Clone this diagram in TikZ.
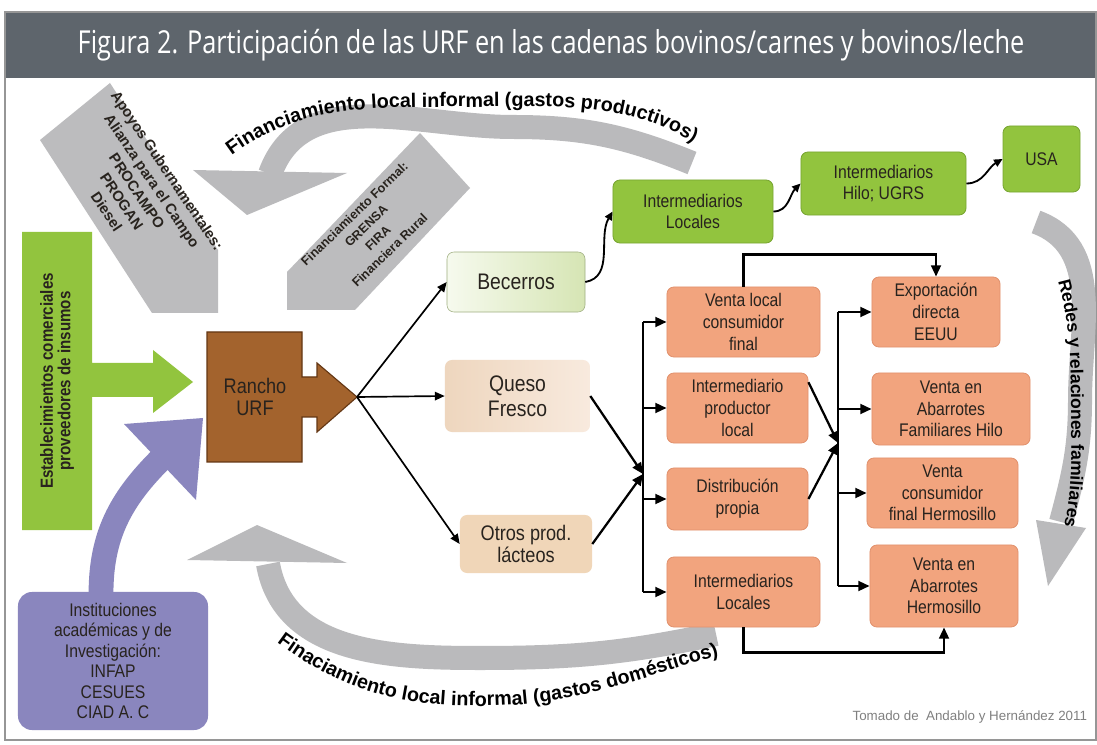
\documentclass[tikz,border=0pt]{standalone}
\usepackage{fontspec}
\setmainfont{Liberation Sans}
\newfontfamily\titlefont[FakeStretch=0.8]{Open Sans}
\newfontfamily\boxfont[FakeStretch=0.86]{Liberation Sans}
\usetikzlibrary{arrows.meta,decorations.text}

\definecolor{titlegray}{RGB}{94,101,108}
\definecolor{framegray}{RGB}{150,150,150}
\definecolor{shapegray}{RGB}{188,188,190}
\definecolor{arcgray}{RGB}{186,186,188}
\definecolor{limegreen}{RGB}{146,196,62}
\definecolor{limeborder}{RGB}{120,165,50}
\definecolor{salmon}{RGB}{242,164,126}
\definecolor{salmonborder}{RGB}{226,146,110}
\definecolor{ranchbrown}{RGB}{163,99,45}
\definecolor{ranchborder}{RGB}{100,55,20}
\definecolor{lavender}{RGB}{138,134,190}
\definecolor{calfleft}{RGB}{246,250,238}
\definecolor{calfright}{RGB}{214,229,180}
\definecolor{calfborder}{RGB}{160,175,130}
\definecolor{cheeseleft}{RGB}{238,214,190}
\definecolor{cheeseright}{RGB}{248,234,222}
\definecolor{dairy}{RGB}{240,214,184}
\definecolor{textdark}{RGB}{40,35,30}

\begin{document}
\begin{tikzpicture}[x=0.025cm, y=0.025cm,
    box/.style={rounded corners=5pt, align=center, inner sep=2pt, text=textdark, font=\boxfont\fontsize{13}{15.5}\selectfont},
    obox/.style={box, fill=salmon, draw=salmonborder, line width=0.6pt},
    gbox/.style={box, fill=limegreen, draw=limeborder, line width=0.6pt},
    arr/.style={-{Triangle[length=8pt,width=7pt]}, line width=1.6pt},
    tarr/.style={-{Triangle[length=7pt,width=6pt]}, line width=1.2pt},
    carr/.style={-{Triangle[length=6pt,width=5.5pt]}, line width=1.3pt},
    band/.style={draw=arcgray, line width=0.6cm},
    arctext/.style 2 args={decoration={text along path, text align=center, text={|\bfseries\fontsize{#1}{#1}\selectfont|#2}}, decorate}]

        \useasboundingbox (0,0) rectangle (1097,744);
        \fill[white] (0,0) rectangle (1097,744);
        \fill[titlegray] (5,666) rectangle (1097,732);
        \draw[framegray, line width=0.8pt] (5,4) rectangle (1096,732);
        \node[text=white, font=\titlefont\fontsize{22.5}{24}\selectfont] (T) at (551,699) {Figura 2. Participación de las URF en las cadenas bovinos/carnes y bovinos/leche};

        \fill[shapegray] (40,604) -- (110,661) -- (218,494) -- (218,431) -- (152,431) -- cycle;
        \fill[shapegray] (287,434) -- (287,472) -- (420,611) -- (470,556) -- (355,434) -- cycle;

        \draw[band] (692,581) to[out=158,in=0] (513,617) to[out=180,in=70] (270,570);
        \fill[arcgray] (193,574) -- (347,571) -- (247,529) -- cycle;
        \draw[band] (716,110) to[out=192,in=0] (480,86) to[out=180,in=-80] (268,180);
        \fill[arcgray] (187,184) -- (347,181) -- (257,219) -- cycle;
        \draw[band] (1036,522) to[out=-20,in=90] (1080,344) to[out=-90,in=75] (1061,222);
        \fill[arcgray] (1036,224) -- (1086,216) -- (1048,158) -- cycle;

        \path[arctext={14}{Financiamiento local informal (gastos productivos)}] (212,572) to[out=42,in=180] (460,637) to[out=0,in=145] (715,588);
        \path[arctext={14}{Finaciamiento local informal (gastos domésticos)}] (266,110) to[out=-38,in=180] (480,38) to[out=0,in=195] (732,92);
        \path[arctext={12.5}{Redes y relaciones familiares}] (1046,500) to[out=-70,in=90] (1071,344) to[out=-90,in=70] (1053,180);

        \fill[limegreen] (22,214) -- (92,214) -- (92,347) -- (153,347) -- (153,331) -- (193,362) -- (153,394) -- (153,381) -- (92,381) -- (92,512) -- (22,512) -- cycle;
        \draw[lavender, line width=0.62cm] (101,150) to[out=90,in=225] (160,284);
        \fill[lavender] (124,320) -- (196,244) -- (203,326) -- cycle;
        \filldraw[fill=ranchbrown, draw=ranchborder, line width=0.8pt] (207,412) -- (302,412) -- (302,367) -- (317,367) -- (317,381) -- (357,347) -- (317,312) -- (317,327) -- (302,327) -- (302,282) -- (207,282) -- cycle;

        \node[rotate=-56, align=center, text=textdark, font=\bfseries\fontsize{10.5}{13}\selectfont] (Apo) at (137,553) {Apoyos Gubernamentales:\\Alianza para el Campo\\PROCAMPO\\PROGAN\\Diesel};
        \node[rotate=44, align=center, text=textdark, font=\bfseries\fontsize{9}{12}\selectfont] (Fin) at (372,512) {Financiamiento Formal:\\GRENSA\\FIRA\\Financiera Rural};
        \node[rotate=90, align=center, text=textdark, font=\boxfont\bfseries\fontsize{12.5}{12.5}\selectfont] (Est) at (57,363) {Establecimientos comerciales\\proveedores de insumos};
        \node[box, fill=lavender, rounded corners=10pt, minimum width=4.75cm, minimum height=3.45cm, font=\boxfont\fontsize{13}{14.5}\selectfont] (Ins) at (113,83) {Instituciones\\académicas y de\\Investigación:\\INFAP\\CESUES\\CIAD A. C};
        \node[box, font=\boxfont\fontsize{15}{16}\selectfont] (R) at (255,347) {Rancho\\URF};
        \coordinate (RT) at (357,347);

        \node[box, left color=calfleft, right color=calfright, draw=calfborder, minimum width=3.45cm, minimum height=1.5cm, font=\boxfont\fontsize{16}{18}\selectfont] (Bec) at (516,462) {Becerros};
        \node[box, left color=cheeseleft, right color=cheeseright, minimum width=3.625cm, minimum height=1.8cm, font=\boxfont\fontsize{16}{18}\selectfont] (Que) at (517.5,348) {Queso\\Fresco};
        \node[box, fill=dairy, minimum width=3.3cm, minimum height=1.45cm, font=\boxfont\fontsize{15}{16}\selectfont] (Otr) at (526,200) {Otros prod.\\lácteos};

        \node[gbox, minimum width=4cm, minimum height=1.575cm] (IL) at (693,532.5) {Intermediarios\\Locales};
        \node[gbox, minimum width=4.125cm, minimum height=1.575cm] (IH) at (883.5,560.5) {Intermediarios\\Hilo; UGRS};
        \node[gbox, minimum width=1.925cm, minimum height=1.65cm] (USA) at (1041.5,585) {USA};

        \node[obox, minimum width=3.825cm, minimum height=1.75cm] (V1) at (743.5,422) {Venta local\\consumidor\\final};
        \node[obox, minimum width=3.525cm, minimum height=1.75cm] (V2) at (737.5,336) {Intermediario\\productor\\local};
        \node[obox, minimum width=3.525cm, minimum height=1.55cm] (V3) at (737.5,245) {Distribución\\propia};
        \node[obox, minimum width=3.825cm, minimum height=1.75cm] (V4) at (743.5,152) {Intermediarios\\Locales};

        \node[obox, minimum width=3.2cm, minimum height=1.75cm] (E1) at (936,432) {Exportación\\directa\\EEUU};
        \node[obox, minimum width=3.95cm, minimum height=1.8cm] (E2) at (951,335) {Venta en\\Abarrotes\\Familiares Hilo};
        \node[obox, minimum width=3.775cm, minimum height=1.75cm] (E3) at (942.5,251) {Venta\\consumidor\\final Hermosillo};
        \node[obox, minimum width=3.7cm, minimum height=2.05cm] (E4) at (944,158) {Venta en\\Abarrotes\\Hermosillo};

        \node[anchor=east, text=gray, font=\fontsize{9.5}{11}\selectfont] (Src) at (1092,27) {Tomado de\ \ Andablo y Hernández 2011};

        \coordinate (BL) at (643,270);
        \coordinate (BR) at (838,301);

        \draw[tarr] (RT) -- (Bec.west);
        \draw[tarr] (RT) -- (Que.west);
        \draw[tarr] (RT) -- (Otr.west);
        \draw[carr] (Bec.east) to[out=10,in=240] (IL.west);
        \draw[carr] (IL.east) to[out=0,in=225] (IH.west);
        \draw[carr] (IH.east) to[out=0,in=210] (USA.west);

        \draw[arr] (Que.east) -- (BL);
        \draw[arr] (Otr.east) -- (BL);
        \draw[line width=1.6pt] (BL |- V1.west) -- (BL |- V4.west);
        \draw[arr] (BL |- V1.west) -- (V1.west);
        \draw[arr] (BL |- V2.west) -- (V2.west);
        \draw[arr] (BL |- V3.west) -- (V3.west);
        \draw[arr] (BL |- V4.west) -- (V4.west);

        \draw[arr] (V2.20) -- (BR);
        \draw[arr] (V3.east) -- (BR);
        \draw[line width=1.6pt] (BR |- E1.west) -- (BR |- E4.west);
        \draw[arr] (BR |- E1.west) -- (E1.west);
        \draw[arr] (BR |- E2.west) -- (E2.west);
        \draw[arr] (BR |- E3.west) -- (E3.west);
        \draw[arr] (BR |- E4.west) -- (E4.west);

        \draw[arr] (V1.north) -- ++(0,32) -| (E1.north);
        \draw[arr] (V4.south) -- ++(0,-25) -| (E4.south);
    \end{tikzpicture}
\end{document}
